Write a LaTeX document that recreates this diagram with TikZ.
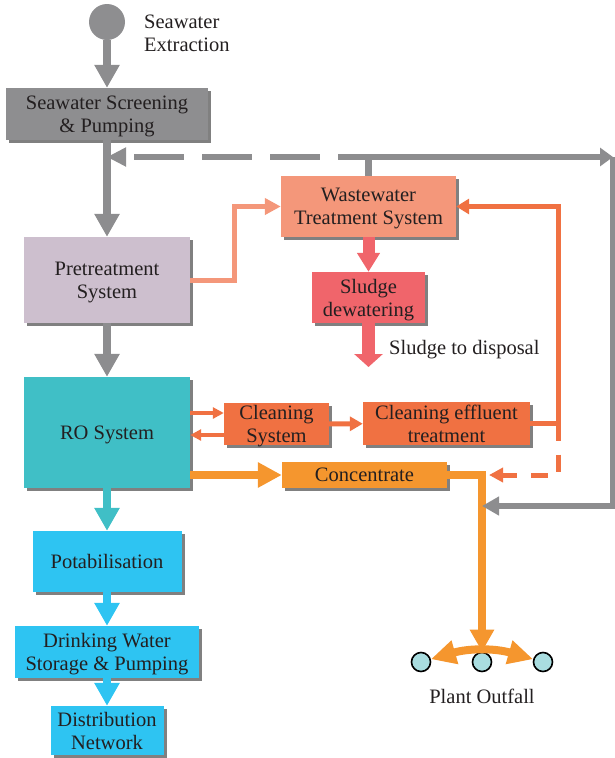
\documentclass[tikz,border=0pt]{standalone}
\usepackage{fontspec}
\setmainfont{Liberation Serif}
\usepackage{xcolor}
\usepackage{tikz}
\usetikzlibrary{
	arrows.meta,shadows
}

\definecolor{grayarr}{HTML}{8D8D8F}
\definecolor{grbox}{HTML}{8E8E90}
\definecolor{mauve}{HTML}{CDBFCE}
\definecolor{roteal}{HTML}{40BFC6}
\definecolor{skyb}{HTML}{2EC4F2}
\definecolor{salmon}{HTML}{F4977A}
\definecolor{sludgered}{HTML}{F0656B}
\definecolor{cleanor}{HTML}{F07142}
\definecolor{concor}{HTML}{F5962E}
\definecolor{outfl}{HTML}{A9DDE0}
\definecolor{txt}{HTML}{231F20}

\tikzset{
	box/.style={rectangle,inner sep=0pt,align=center,text depth=0pt,
		general shadow={fill=black!50,shadow xshift=3pt,shadow yshift=-3pt}},
	lbl/.style={inner sep=0pt},
	outc/.style={circle,draw=black,line width=1.6pt,fill=outfl,minimum size=19pt,inner sep=0pt},
	bigarr/.style={line width=8pt,-{Triangle[length=23pt,width=24pt]}},
	grayln/.style={line width=6.5pt,draw=grayarr},
	cleanln/.style={line width=5pt,draw=cleanor},
	concln/.style={line width=8pt,draw=concor}
}

\begin{document}
\begin{tikzpicture}[x=1pt,y=-1pt,
	font=\fontsize{20.5}{23}\selectfont,
	every node/.style={text=txt}]
	\useasboundingbox (0,0) rectangle (615,758);
	%
	\node[circle,fill=grbox,minimum size=36pt,inner sep=0pt] (src) at (107,22) {};
	\node[lbl,anchor=west,align=left] (srclbl) at (144,33) {Seawater\\Extraction};
	\node[box,fill=grbox,minimum width=202pt,minimum height=52pt] (scr) at (107,114) {Seawater Screening\\\& Pumping};
	\node[box,fill=mauve,minimum width=166pt,minimum height=86pt] (pre) at (107,280) {Pretreatment\\System};
	\node[box,fill=roteal,minimum width=166pt,minimum height=111pt] (ro) at (107,432.5) {RO System};
	\node[box,fill=skyb,minimum width=149pt,minimum height=61pt] (pot) at (107,561.5) {Potabilisation};
	\node[box,fill=skyb,minimum width=184pt,minimum height=52pt] (dw) at (107,652) {Drinking Water\\Storage \& Pumping};
	\node[box,fill=skyb,minimum width=113pt,minimum height=49pt] (dist) at (107,730.5) {Distribution\\Network};
	%
	\node[box,fill=salmon,minimum width=175pt,minimum height=61pt] (ww) at (368.5,206.5) {Wastewater\\Treatment System};
	\node[box,fill=sludgered,minimum width=113pt,minimum height=51pt] (sl) at (368.5,297.5) {Sludge\\dewatering};
	\node[lbl,anchor=west] (displbl) at (389,350) {Sludge to disposal};
	\node[box,fill=cleanor,minimum width=105pt,minimum height=42pt] (cs) at (276.5,424) {Cleaning\\System};
	\node[box,fill=cleanor,minimum width=167pt,minimum height=43pt] (ce) at (446.5,423.5) {Cleaning effluent\\treatment};
	\node[box,fill=concor,minimum width=165pt,minimum height=26pt] (conc) at (364.5,475) {Concentrate};
	%
	\node[outc] (of1) at (421,662) {};
	\node[outc] (of2) at (482,662) {};
	\node[outc] (of3) at (543,662) {};
	\node[lbl] (oflbl) at (482,696) {Plant Outfall};
	%
	\coordinate (jn) at (368.5,157);
	\coordinate (ne) at (613,157);
	\coordinate (se) at (613,506);
	\coordinate (rc) at (558,423.5);
	\coordinate (ofk) at (482,475);
	\coordinate (dtip) at (489,475);
	\coordinate (disp) at (368.5,367);
	%
	\draw[bigarr,grayarr] (src) -- (scr);
	\draw[bigarr,grayarr] (scr) -- (pre);
	\draw[bigarr,grayarr] (pre) -- (ro);
	\draw[bigarr,roteal] (ro) -- (pot);
	\draw[bigarr,skyb] (pot) -- (dw);
	\draw[bigarr,skyb] (dw) -- (dist);
	%
	\draw[grayln] (jn) -- (ww.north);
	\draw[grayln,dash pattern=on 50pt off 18pt,dash phase=19pt,
		-{Triangle[length=19pt,width=18pt]}] (jn) -- (scr.south |- jn);
	\draw[grayln,-{Triangle[length=13pt,width=18pt]}] (jn) -- (ne);
	%
	\draw[line width=5pt,salmon,-{Triangle[length=16pt,width=16pt]}] (pre.east) -- ++(44,0) |- (ww.west);
	\draw[line width=12pt,sludgered,-{Triangle[length=19pt,width=22pt]}] (ww) -- (sl);
	\draw[line width=13pt,sludgered,-{Triangle[length=13pt,width=28pt]}] (sl) -- (disp);
	%
	\draw[cleanln,line width=3.5pt,-{Triangle[length=11pt,width=11pt]}] (ro.east |- 0,413) -- (cs.west |- 0,413);
	\draw[cleanln,line width=3.5pt,-{Triangle[length=11pt,width=11pt]}] (cs.west |- 0,435) -- (ro.east |- 0,435);
	\draw[cleanln,-{Triangle[length=13pt,width=14pt]}] (cs) -- (ce);
	\draw[cleanln,-{Triangle[length=13pt,width=15pt]}] (ce.east) -- (rc) |- (ww.east);
	\draw[cleanln,dash pattern=on 17pt off 14pt,
		-{Triangle[length=14pt,width=14pt]}] (rc) -- (rc |- dtip) -- (dtip);
	%
	\draw[concln,-{Triangle[length=24pt,width=24pt]}] (ro.east |- conc.west) -- (conc.west);
	\draw[concln,-{Triangle[length=22pt,width=23pt]}] (conc.east) -- (ofk) -- (of2.north);
	\draw[grayln,-{Triangle[length=17pt,width=18pt]}] (ne) -- (se) -- (ofk |- se);
	\draw[concln,{Triangle[length=25pt,width=23pt]}-{Triangle[length=25pt,width=23pt]}] (of1) to[bend left=16] (of3);
\end{tikzpicture}
\end{document}
